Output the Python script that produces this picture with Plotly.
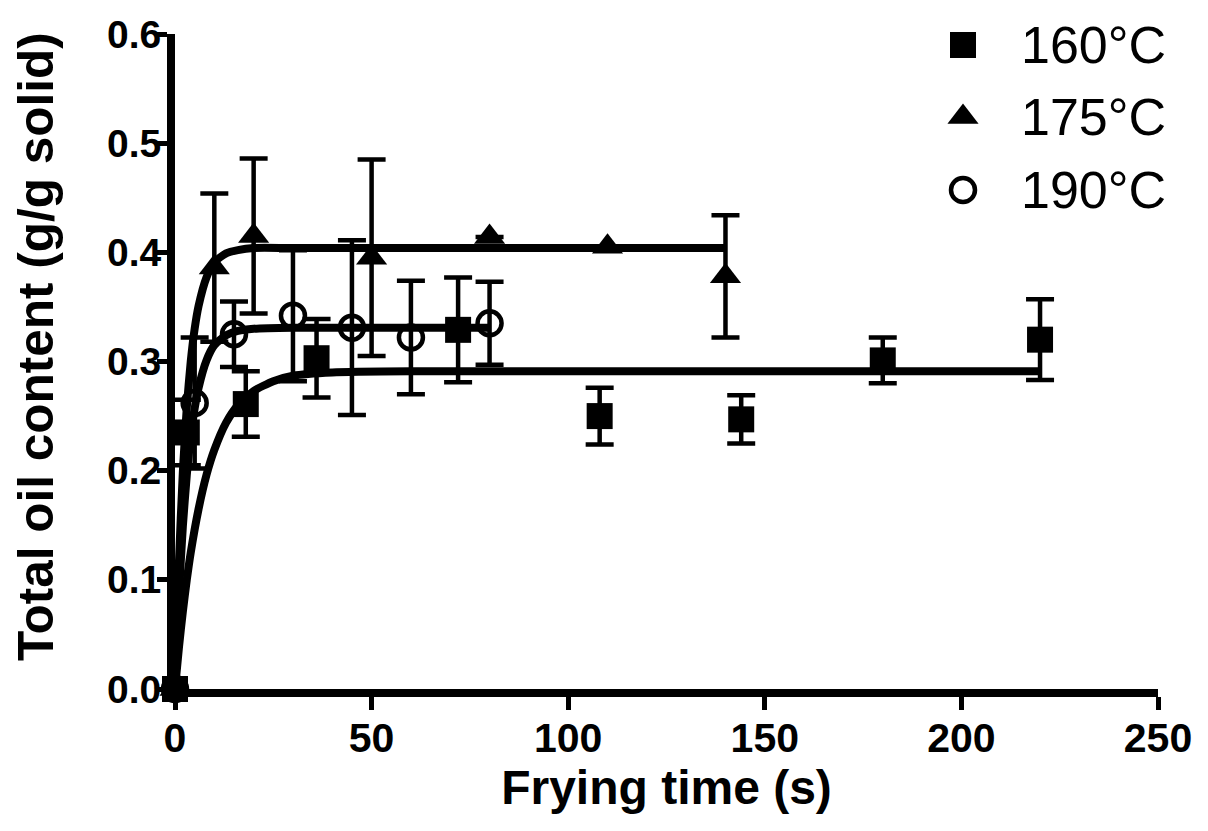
import plotly.graph_objects as go

# Measured data (frying time in s, total oil content in g/g solid, SD)
t160 = [0, 3, 18, 36, 72, 108, 144, 180, 220]
y160 = [0, 0.235, 0.261, 0.303, 0.329, 0.250, 0.247, 0.301, 0.320]
e160 = [0, 0.030, 0.030, 0.036, 0.048, 0.026, 0.022, 0.021, 0.037]

t175 = [0, 10, 20, 50, 80, 110, 140]
y175 = [0, 0.386, 0.415, 0.395, 0.414, 0.405, 0.378]
e175 = [0, 0.068, 0.071, 0.090, 0, 0, 0.056]

t190 = [0, 5, 15, 30, 45, 60, 80]
y190 = [0, 0.262, 0.325, 0.342, 0.331, 0.322, 0.335]
e190 = [0, 0.060, 0.030, 0.060, 0.080, 0.052, 0.038]

# Fitted curves, points
fit160_t = [0, 1, 2, 3, 4, 6, 8, 10, 13, 16, 20, 25, 30, 40, 60, 220]
fit160_y = [0, 0.038, 0.071, 0.100, 0.125, 0.165, 0.196, 0.219, 0.244, 0.260, 0.273, 0.282, 0.287, 0.290, 0.291, 0.291]

fit175_t = [0, 1, 2, 3, 4, 5, 6, 8, 10, 13, 16, 20, 30, 140]
fit175_y = [0, 0.116, 0.199, 0.258, 0.300, 0.330, 0.351, 0.377, 0.391, 0.399, 0.402, 0.404, 0.404, 0.404]

fit190_t = [0, 1, 2, 3, 4, 5, 6, 8, 10, 13, 16, 20, 30, 80]
fit190_y = [0, 0.086, 0.149, 0.196, 0.231, 0.257, 0.276, 0.301, 0.315, 0.324, 0.328, 0.330, 0.331, 0.331]

series_names = ["160°C", "175°C", "190°C"]
x_ticks = [0, 50, 100, 150, 200, 250]
y_ticks = [0.0, 0.1, 0.2, 0.3, 0.4, 0.5, 0.6]

FONT = "Liberation Sans, Arial, sans-serif"

# Layout geometry (page pixels) for the legend overlay
PLOT_L, PLOT_R, PLOT_T, PLOT_B = 175, 1158, 34, 689
LEG_SYM_X, LEG_TEXT_X = 963, 1019
LEG_ROWS_Y = [45, 117, 190]

marker_styles = [
    dict(symbol="square", size=26, color="black"),
    dict(symbol="triangle-up", size=27, color="black"),
    dict(symbol="circle-open", size=24, color="black", line=dict(width=4.5, color="black")),
]

fig = go.Figure()

for ft, fy in [(fit160_t, fit160_y), (fit175_t, fit175_y), (fit190_t, fit190_y)]:
    fig.add_trace(go.Scatter(x=ft, y=fy, mode="lines", line=dict(color="black", width=8, shape="spline", smoothing=0.6),
                             showlegend=False, hoverinfo="skip", cliponaxis=False))

err_style = dict(type="data", visible=True, color="black", thickness=4.5, width=14)

for (tx, ty, te), name, ms in zip([(t160, y160, e160), (t175, y175, e175), (t190, y190, e190)],
                                  series_names, marker_styles):
    fig.add_trace(go.Scatter(x=tx, y=ty, mode="markers", name=name, marker=ms,
                             error_y=dict(array=te, **err_style), cliponaxis=False, showlegend=False))

# Legend drawn on an overlay axis in page-pixel units
for name, ms, ry in zip(series_names, marker_styles, LEG_ROWS_Y):
    fig.add_trace(go.Scatter(x=[LEG_SYM_X], y=[ry], xaxis="x2", yaxis="y2", mode="markers",
                             marker=ms, showlegend=False, hoverinfo="skip", cliponaxis=False))
    fig.add_annotation(x=LEG_TEXT_X, y=ry, xref="x2", yref="y2", text=name, showarrow=False,
                       xanchor="left", yanchor="middle", font=dict(size=52, family=FONT, color="black"))

fig.add_annotation(x=(35 - PLOT_L) / (PLOT_R - PLOT_L), y=(PLOT_B - 347) / (PLOT_B - PLOT_T),
                   xref="paper", yref="paper", text="<b>Total oil content (g/g solid)</b>",
                   textangle=-90, showarrow=False, xanchor="center", yanchor="middle",
                   font=dict(size=49.5, family=FONT, color="black"))

fig.update_layout(
    width=1208, height=831,
    paper_bgcolor="white", plot_bgcolor="white",
    margin=dict(l=167, r=58, t=26, b=150),
    font=dict(family=FONT, color="black"),
    showlegend=False,
    xaxis=dict(range=[0, 250], tickvals=x_ticks, ticktext=[str(v) for v in x_ticks],
               showline=True, linewidth=8, linecolor="black", mirror=False,
               ticks="outside", ticklen=13, tickwidth=5, tickcolor="black", ticklabelstandoff=-7,
               showgrid=False, zeroline=False, automargin=False,
               tickfont=dict(size=41, family=FONT, color="black", weight="bold"),
               title=dict(text="<b>Frying time (s)</b>", font=dict(size=48, family=FONT, color="black"), standoff=8)),
    yaxis=dict(range=[0, 0.6], tickvals=y_ticks, ticktext=[f"{v:.1f}" for v in y_ticks],
               showline=True, linewidth=8, linecolor="black", mirror=False,
               ticks="outside", ticklen=10, tickwidth=5, tickcolor="black", ticklabelstandoff=-12,
               showgrid=False, zeroline=False, automargin=False,
               tickfont=dict(size=39, family=FONT, color="black", weight="bold")),
    xaxis2=dict(range=[PLOT_L, PLOT_R], overlaying="x", visible=False, fixedrange=True),
    yaxis2=dict(range=[PLOT_B, PLOT_T], overlaying="y", visible=False, fixedrange=True),
)

fig.write_html("out.html")
